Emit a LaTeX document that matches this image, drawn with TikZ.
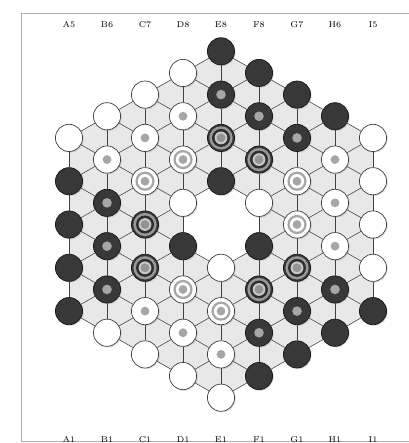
\documentclass[tikz,border=0pt]{standalone}
\usetikzlibrary{shadows,backgrounds}

\begin{document}
\begin{tikzpicture}[
  x=0.95cm, y=0.54125cm,
  piece/.style={circle, minimum size=0.68cm, inner sep=0pt, line width=0.5pt,
    drop shadow={opacity=0.25, shadow xshift=0.8pt, shadow yshift=-0.8pt}},
  wtott/.style={piece, draw=black!75, fill=white},
  btott/.style={piece, draw=black!90, fill=black!78},
  wtzarra/.style={wtott, path picture={
      \fill[black!35] (path picture bounding box.center) circle (0.11cm);}},
  btzarra/.style={btott, path picture={
      \fill[black!35] (path picture bounding box.center) circle (0.12cm);}},
  wtzaar/.style={wtott, path picture={
      \fill[black!35] (path picture bounding box.center) circle (0.24cm);
      \fill[white] (path picture bounding box.center) circle (0.18cm);
      \fill[black!35] (path picture bounding box.center) circle (0.11cm);}},
  btzaar/.style={btott, path picture={
      \fill[black!40] (path picture bounding box.center) circle (0.29cm);
      \fill[black!82] (path picture bounding box.center) circle (0.225cm);
      \fill[black!22] (path picture bounding box.center) circle (0.16cm);
      \fill[black!42] (path picture bounding box.center) circle (0.11cm);}},
  gridline/.style={black!75, line width=0.4pt},
  coordlabel/.style={font=\fontsize{6}{7}\selectfont, inner sep=0pt}
]
\useasboundingbox (-5.816,-10.092) rectangle (4.921,10.370);
\draw[black!30, line width=0.4pt] (-5.263,-10.0) rectangle (5.2,9.769);

% column labels
\node[coordlabel] (tA) at (-4,9.24) {A5};
\node[coordlabel] (tB) at (-3,9.24) {B6};
\node[coordlabel] (tC) at (-2,9.24) {C7};
\node[coordlabel] (tD) at (-1,9.24) {D8};
\node[coordlabel] (tE) at (0,9.24) {E8};
\node[coordlabel] (tF) at (1,9.24) {F8};
\node[coordlabel] (tG) at (2,9.24) {G7};
\node[coordlabel] (tH) at (3,9.24) {H6};
\node[coordlabel] (tI) at (4,9.24) {I5};
\node[coordlabel] (bA) at (-4,-9.93) {A1};
\node[coordlabel] (bB) at (-3,-9.93) {B1};
\node[coordlabel] (bC) at (-2,-9.93) {C1};
\node[coordlabel] (bD) at (-1,-9.93) {D1};
\node[coordlabel] (bE) at (0,-9.93) {E1};
\node[coordlabel] (bF) at (1,-9.93) {F1};
\node[coordlabel] (bG) at (2,-9.93) {G1};
\node[coordlabel] (bH) at (3,-9.93) {H1};
\node[coordlabel] (bI) at (4,-9.93) {I1};

% pieces
\node[btott] (A1) at (-4,-4) {};
\node[btott] (A2) at (-4,-2) {};
\node[btott] (A3) at (-4,0) {};
\node[btott] (A4) at (-4,2) {};
\node[wtott] (A5) at (-4,4) {};

\node[wtott] (B1) at (-3,-5) {};
\node[btzarra] (B2) at (-3,-3) {};
\node[btzarra] (B3) at (-3,-1) {};
\node[btzarra] (B4) at (-3,1) {};
\node[wtzarra] (B5) at (-3,3) {};
\node[wtott] (B6) at (-3,5) {};

\node[wtott] (C1) at (-2,-6) {};
\node[wtzarra] (C2) at (-2,-4) {};
\node[btzaar] (C3) at (-2,-2) {};
\node[btzaar] (C4) at (-2,0) {};
\node[wtzaar] (C5) at (-2,2) {};
\node[wtzarra] (C6) at (-2,4) {};
\node[wtott] (C7) at (-2,6) {};

\node[wtott] (D1) at (-1,-7) {};
\node[wtzarra] (D2) at (-1,-5) {};
\node[wtzaar] (D3) at (-1,-3) {};
\node[btott] (D4) at (-1,-1) {};
\node[wtott] (D5) at (-1,1) {};
\node[wtzaar] (D6) at (-1,3) {};
\node[wtzarra] (D7) at (-1,5) {};
\node[wtott] (D8) at (-1,7) {};

\node[wtott] (E1) at (0,-8) {};
\node[wtzarra] (E2) at (0,-6) {};
\node[wtzaar] (E3) at (0,-4) {};
\node[wtott] (E4) at (0,-2) {};
\node[btott] (E5) at (0,2) {};
\node[btzaar] (E6) at (0,4) {};
\node[btzarra] (E7) at (0,6) {};
\node[btott] (E8) at (0,8) {};

\node[btott] (F1) at (1,-7) {};
\node[btzarra] (F2) at (1,-5) {};
\node[btzaar] (F3) at (1,-3) {};
\node[btott] (F4) at (1,-1) {};
\node[wtott] (F5) at (1,1) {};
\node[btzaar] (F6) at (1,3) {};
\node[btzarra] (F7) at (1,5) {};
\node[btott] (F8) at (1,7) {};

\node[btott] (G1) at (2,-6) {};
\node[btzarra] (G2) at (2,-4) {};
\node[btzaar] (G3) at (2,-2) {};
\node[wtzaar] (G4) at (2,0) {};
\node[wtzaar] (G5) at (2,2) {};
\node[btzarra] (G6) at (2,4) {};
\node[btott] (G7) at (2,6) {};

\node[btott] (H1) at (3,-5) {};
\node[btzarra] (H2) at (3,-3) {};
\node[wtzarra] (H3) at (3,-1) {};
\node[wtzarra] (H4) at (3,1) {};
\node[wtzarra] (H5) at (3,3) {};
\node[btott] (H6) at (3,5) {};

\node[btott] (I1) at (4,-4) {};
\node[wtott] (I2) at (4,-2) {};
\node[wtott] (I3) at (4,0) {};
\node[wtott] (I4) at (4,2) {};
\node[wtott] (I5) at (4,4) {};

% board
\begin{pgfonlayer}{background}
\fill[black!9] (A1.center) -- (A5.center) -- (E8.center) -- (I5.center)
  -- (I1.center) -- (E1.center) -- cycle;
\fill[white] (D4.center) -- (D5.center) -- (E5.center) -- (F5.center)
  -- (F4.center) -- (E4.center) -- cycle;
\end{pgfonlayer}

% vertical lines
\draw[gridline] (A1) -- (A2) -- (A3) -- (A4) -- (A5);
\draw[gridline] (B1) -- (B2) -- (B3) -- (B4) -- (B5) -- (B6);
\draw[gridline] (C1) -- (C2) -- (C3) -- (C4) -- (C5) -- (C6) -- (C7);
\draw[gridline] (D1) -- (D2) -- (D3) -- (D4) -- (D5) -- (D6) -- (D7) -- (D8);
\draw[gridline] (E1) -- (E2) -- (E3) -- (E4);
\draw[gridline] (E5) -- (E6) -- (E7) -- (E8);
\draw[gridline] (F1) -- (F2) -- (F3) -- (F4) -- (F5) -- (F6) -- (F7) -- (F8);
\draw[gridline] (G1) -- (G2) -- (G3) -- (G4) -- (G5) -- (G6) -- (G7);
\draw[gridline] (H1) -- (H2) -- (H3) -- (H4) -- (H5) -- (H6);
\draw[gridline] (I1) -- (I2) -- (I3) -- (I4) -- (I5);

% rising lines
\draw[gridline] (A5) -- (B6) -- (C7) -- (D8) -- (E8);
\draw[gridline] (A4) -- (B5) -- (C6) -- (D7) -- (E7) -- (F8);
\draw[gridline] (A3) -- (B4) -- (C5) -- (D6) -- (E6) -- (F7) -- (G7);
\draw[gridline] (A2) -- (B3) -- (C4) -- (D5) -- (E5) -- (F6) -- (G6) -- (H6);
\draw[gridline] (A1) -- (B2) -- (C3) -- (D4);
\draw[gridline] (F5) -- (G5) -- (H5) -- (I5);
\draw[gridline] (B1) -- (C2) -- (D3) -- (E4) -- (F4) -- (G4) -- (H4) -- (I4);
\draw[gridline] (C1) -- (D2) -- (E3) -- (F3) -- (G3) -- (H3) -- (I3);
\draw[gridline] (D1) -- (E2) -- (F2) -- (G2) -- (H2) -- (I2);
\draw[gridline] (E1) -- (F1) -- (G1) -- (H1) -- (I1);

% falling lines
\draw[gridline] (A1) -- (B1) -- (C1) -- (D1) -- (E1);
\draw[gridline] (A2) -- (B2) -- (C2) -- (D2) -- (E2) -- (F1);
\draw[gridline] (A3) -- (B3) -- (C3) -- (D3) -- (E3) -- (F2) -- (G1);
\draw[gridline] (A4) -- (B4) -- (C4) -- (D4) -- (E4) -- (F3) -- (G2) -- (H1);
\draw[gridline] (A5) -- (B5) -- (C5) -- (D5);
\draw[gridline] (F4) -- (G3) -- (H2) -- (I1);
\draw[gridline] (B6) -- (C6) -- (D6) -- (E5) -- (F5) -- (G4) -- (H3) -- (I2);
\draw[gridline] (C7) -- (D7) -- (E6) -- (F6) -- (G5) -- (H4) -- (I3);
\draw[gridline] (D8) -- (E7) -- (F7) -- (G6) -- (H5) -- (I4);
\draw[gridline] (E8) -- (F8) -- (G7) -- (H6) -- (I5);
\end{tikzpicture}
\end{document}
